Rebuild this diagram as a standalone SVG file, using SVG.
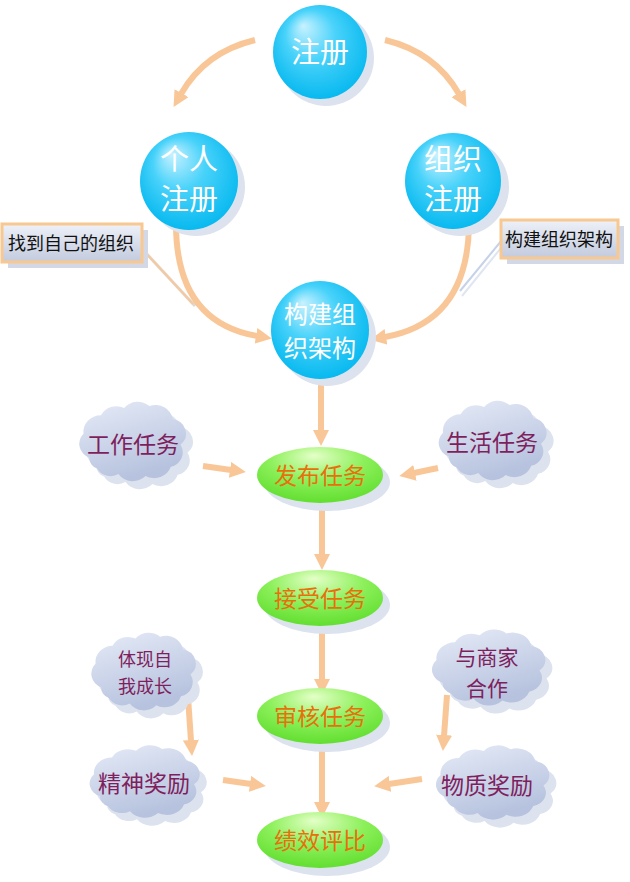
<svg xmlns="http://www.w3.org/2000/svg" width="630" height="882" viewBox="0 0 630 882">
<defs>
<radialGradient id="gBlue" cx="0.5" cy="0.45" r="0.6" fx="0.32" fy="0.22">
<stop offset="0" stop-color="#c8f2ff"/>
<stop offset="0.45" stop-color="#48d2fa"/>
<stop offset="1" stop-color="#00b6ee"/>
</radialGradient>
<radialGradient id="gGreen" cx="0.5" cy="0.3" r="0.75" fx="0.45" fy="0.15">
<stop offset="0" stop-color="#e4ffc8"/>
<stop offset="0.5" stop-color="#8cf05a"/>
<stop offset="1" stop-color="#5cdc2a"/>
</radialGradient>
<linearGradient id="gCloud" x1="0" y1="0" x2="0.4" y2="1">
<stop offset="0" stop-color="#e6ebf7"/>
<stop offset="1" stop-color="#b6c2de"/>
</linearGradient>
<linearGradient id="gBox" x1="0" y1="0" x2="0" y2="1">
<stop offset="0" stop-color="#eef1f8"/>
<stop offset="1" stop-color="#c2cadd"/>
</linearGradient>
<path id="cloud" d="M-44,18 A16,16 0 0 1 -50,-8 A18,18 0 0 1 -32,-28 A18,18 0 0 1 -8,-36 A18,18 0 0 1 18,-38 A18,18 0 0 1 42,-24 A16,16 0 0 1 50,4 A16,16 0 0 1 40,28 A18,18 0 0 1 14,38 A18,18 0 0 1 -14,36 A16,16 0 0 1 -36,30 A12,12 0 0 1 -44,18 Z"/>
<marker id="ah" viewBox="0 0 16 16" refX="1" refY="8" markerWidth="16" markerHeight="16" orient="auto" markerUnits="userSpaceOnUse">
<path d="M0,0 L16,8 L0,16 z" fill="#f9c797"/>
</marker>
</defs>
<style>
.sh{fill:#dce3ef}
.circ{fill:url(#gBlue)}
.ell{fill:url(#gGreen)}
.cl{fill:url(#gCloud)}
.ct{font-family:"Noto Sans CJK SC",sans-serif;fill:#ffffff;text-anchor:middle}
.et{font-family:"Noto Sans CJK SC",sans-serif;fill:#e8700c;font-size:23px;text-anchor:middle}
.cloudt{font-family:"Noto Sans CJK SC",sans-serif;fill:#7e1f5e;text-anchor:middle}
.bt{font-family:"Noto Sans CJK SC",sans-serif;fill:#111111;font-size:18px}
.box{fill:url(#gBox);stroke:#f8c890;stroke-width:3}
.arr{fill:none;stroke:#f9c797;stroke-width:6;marker-end:url(#ah)}
</style>
<rect width="630" height="882" fill="#ffffff"/>

<g id="connectors">
<path class="arr" d="M255,40 Q205,52 181,94"/>
<path class="arr" d="M385,40 Q435,52 459,94"/>
<path class="arr" d="M176,224 Q176,322 257,336"/>
<path class="arr" d="M469,224 Q468,322 385,337"/>
<path class="arr" d="M321,380 L321,431"/>
<path class="arr" d="M203,466 L231,470"/>
<path class="arr" d="M438,468 L414,473"/>
<path class="arr" d="M322,507 L322,555"/>
<path class="arr" d="M322,632 L322,680"/>
<path class="arr" d="M322,750 L322,803"/>
<path class="arr" d="M188,697 L191,741"/>
<path class="arr" d="M447,695 L444,736"/>
<path class="arr" d="M223,780 L251,784"/>
<path class="arr" d="M422,779 L389,784"/>
<line x1="145" y1="252" x2="195" y2="306" stroke="#d6c8bc" stroke-width="3" opacity="0.7"/>
<line x1="143" y1="250" x2="193" y2="304" stroke="#f4c9a0" stroke-width="2"/>
<line x1="502" y1="240" x2="460" y2="291" stroke="#c6d2ea" stroke-width="2"/>
<line x1="505" y1="243" x2="462" y2="296" stroke="#dfe6f2" stroke-width="2"/>
</g>

<g id="node-zhuce">
<circle class="sh" cx="326" cy="58" r="48"/>
<circle class="circ" cx="320" cy="52" r="47"/>
<text class="ct" x="320" y="63" font-size="29">注册</text>
</g>

<g id="node-geren">
<circle class="sh" cx="196" cy="187" r="49"/>
<circle class="circ" cx="189" cy="181" r="49"/>
<text class="ct" x="189" y="170" font-size="29">个人</text>
<text class="ct" x="189" y="210" font-size="29">注册</text>
</g>

<g id="node-zuzhi">
<circle class="sh" cx="460" cy="187" r="49"/>
<circle class="circ" cx="453" cy="181" r="48"/>
<text class="ct" x="453" y="170" font-size="29">组织</text>
<text class="ct" x="453" y="210" font-size="29">注册</text>
</g>

<g id="node-goujian">
<circle class="sh" cx="327" cy="337" r="49"/>
<circle class="circ" cx="320" cy="330" r="49"/>
<text class="ct" x="320" y="323" font-size="24">构建组</text>
<text class="ct" x="320" y="357" font-size="24">织架构</text>
</g>

<g id="note-left">
<rect x="8" y="230" width="140" height="38" fill="#d2d8e6"/>
<rect class="box" x="2" y="224" width="140" height="38"/>
<text class="bt" x="8" y="250">找到自己的组织</text>
</g>

<g id="note-right">
<rect x="507" y="226" width="117" height="38" fill="#d2d8e6"/>
<rect class="box" x="501" y="220" width="117" height="38"/>
<text class="bt" x="505" y="246">构建组织架构</text>
</g>

<g id="node-fabu">
<ellipse class="sh" cx="327" cy="482" rx="63" ry="29"/>
<ellipse class="ell" cx="320" cy="475" rx="63" ry="28"/>
<text class="et" x="320" y="484">发布任务</text>
</g>

<g id="node-jieshou">
<ellipse class="sh" cx="327" cy="605" rx="63" ry="29"/>
<ellipse class="ell" cx="320" cy="598" rx="63" ry="28"/>
<text class="et" x="320" y="607">接受任务</text>
</g>

<g id="node-shenhe">
<ellipse class="sh" cx="327" cy="723" rx="63" ry="29"/>
<ellipse class="ell" cx="320" cy="716" rx="63" ry="28"/>
<text class="et" x="320" y="725">审核任务</text>
</g>

<g id="node-jixiao">
<ellipse class="sh" cx="327" cy="847" rx="63" ry="29"/>
<ellipse class="ell" cx="320" cy="840" rx="63" ry="28"/>
<text class="et" x="320" y="849">绩效评比</text>
</g>

<g id="cloud-gongzuo">
<use href="#cloud" class="sh" transform="translate(139,449) scale(0.97,0.92)"/>
<use href="#cloud" class="cl" transform="translate(132,441) scale(0.97,0.92)"/>
<text class="cloudt" x="133" y="453" font-size="23">工作任务</text>
</g>

<g id="cloud-shenghuo">
<use href="#cloud" class="sh" transform="translate(499,448) scale(0.98,0.92)"/>
<use href="#cloud" class="cl" transform="translate(492,440) scale(0.98,0.92)"/>
<text class="cloudt" x="492" y="451" font-size="23">生活任务</text>
</g>

<g id="cloud-tixian">
<use href="#cloud" class="sh" transform="translate(150,679) scale(0.95,0.9)"/>
<use href="#cloud" class="cl" transform="translate(143,671) scale(0.95,0.9)"/>
<text class="cloudt" x="145" y="666" font-size="18">体现自</text>
<text class="cloudt" x="145" y="693" font-size="18">我成长</text>
</g>

<g id="cloud-shangjia">
<use href="#cloud" class="sh" transform="translate(495,675) scale(1.03,0.88)"/>
<use href="#cloud" class="cl" transform="translate(488,667) scale(1.03,0.88)"/>
<text class="cloudt" x="487" y="665" font-size="21">与商家</text>
<text class="cloudt" x="487" y="696" font-size="21">合作</text>
</g>

<g id="cloud-jingshen">
<use href="#cloud" class="sh" transform="translate(151,789) scale(1.0,0.84)"/>
<use href="#cloud" class="cl" transform="translate(144,781) scale(1.0,0.84)"/>
<text class="cloudt" x="144" y="792" font-size="23">精神奖励</text>
</g>

<g id="cloud-wuzhi">
<use href="#cloud" class="sh" transform="translate(499,790) scale(1.03,0.86)"/>
<use href="#cloud" class="cl" transform="translate(492,782) scale(1.03,0.86)"/>
<text class="cloudt" x="487" y="794" font-size="23">物质奖励</text>
</g>
</svg>
